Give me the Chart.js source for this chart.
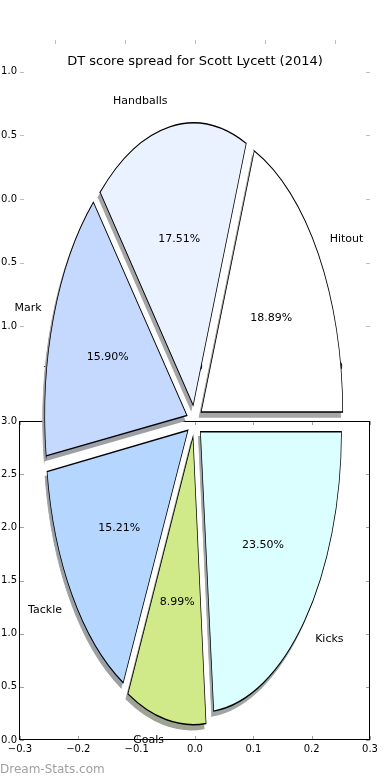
<!DOCTYPE html>
<html>
<head>
<meta charset="utf-8">
<script src="https://cdn.jsdelivr.net/npm/chart.js@4.4.1/dist/chart.umd.min.js"></script>
<style>
  html, body { margin: 0; padding: 0; background: #fff; }
  #page { position: relative; width: 390px; height: 780px; overflow: hidden; font-family: "DejaVu Sans", sans-serif; }
  canvas { position: absolute; top: 0; }
  #ghost { left: -20px; }
  #box, #pie { left: 0; }
  #title { position: absolute; left: 0; width: 390px; top: 52px; text-align: center; font-size: 13px; line-height: 18px; color: #000; }
  #credit { position: absolute; left: 0; top: 761px; font-size: 12px; line-height: 16px; color: #a0a0a0; }
</style>
</head>
<body>
<div id="page">
  <canvas id="ghost" width="430" height="400"></canvas>
  <canvas id="box" width="390" height="780"></canvas>
  <canvas id="pie" width="390" height="780"></canvas>
  <div id="title">DT score spread for Scott Lycett (2014)</div>
  <div id="credit">Dream-Stats.com</div>
</div>
<script>
const categories = ["Hitout", "Handballs", "Mark", "Tackle", "Goals", "Kicks"];
const shares = [18.89, 17.51, 15.90, 15.21, 8.99, 23.50];
const sliceColors = ["#FFFFFF", "#EBF2FF", "#C5D9FF", "#B5D6FF", "#D0EA8A", "#DBFFFF"];

// the empty axes behind the pie, and the framed one under it
const ghostTicks = [-1.0, -0.5, 0.0, 0.5, 1.0];
const boxXTicks = [-0.3, -0.2, -0.1, 0.0, 0.1, 0.2, 0.3];
const boxYTicks = [0.0, 0.5, 1.0, 1.5, 2.0, 2.5, 3.0];

const FONT = "DejaVu Sans";
const STRETCH_Y = 1.99; // pie is squashed into a tall axes, so it comes out as an ellipse
const EXPLODE = 8;      // px, every slice pushed out along its middle angle
const PIE_RADIUS = 141;
const FAR = 3000;       // shadows: shape drawn off canvas, only the shadow lands

Chart.defaults.font.family = FONT;
Chart.defaults.color = "#000";
Chart.defaults.animation = false;

function tickText(v) {
  return Number(v).toFixed(1).replace("-", "\u2212");
}

function shadowOf(hex) {
  //matplotlib shadow: 0.3 * face colour at alpha 0.5 over white
  const n = parseInt(hex.slice(1), 16);
  const rgb = [(n >> 16) & 255, (n >> 8) & 255, n & 255].map((c) => Math.round(c * 0.15 + 127.5));
  return `rgb(${rgb[0]},${rgb[1]},${rgb[2]})`;
}

const innerTicks = {
  id: "innerTicks",
  afterDraw(chart, args, opts) {
    const { ctx, chartArea: a, scales } = chart;
    const len = 4;
    ctx.save();
    ctx.lineWidth = 1;
    ctx.strokeStyle = opts.color;
    ctx.beginPath();
    scales.x.ticks.forEach((t) => {
      const px = Math.round(scales.x.getPixelForValue(t.value)) + 0.5;
      ctx.moveTo(px, a.bottom);
      ctx.lineTo(px, a.bottom - len);
      ctx.moveTo(px, a.top);
      ctx.lineTo(px, a.top + len);
    });
    scales.y.ticks.forEach((t) => {
      const py = Math.round(scales.y.getPixelForValue(t.value)) + 0.5;
      ctx.moveTo(a.left, py);
      ctx.lineTo(a.left + len, py);
      ctx.moveTo(a.right, py);
      ctx.lineTo(a.right - len, py);
    });
    ctx.stroke();
    if (opts.frame) {
      ctx.strokeStyle = "#000";
      ctx.strokeRect(Math.round(a.left) - 0.5, Math.round(a.top) + 0.5, Math.round(a.right - a.left), Math.round(a.bottom - a.top) - 1);
    }
    ctx.restore();
  },
};

function axis(values, min, max, fitSize, isX) {
  return {
    type: "linear",
    min: min,
    max: max,
    grid: { display: false, drawTicks: false },
    border: { display: false },
    ticks: { font: { size: 10 }, color: "#000", padding: 3, callback: (v) => tickText(v) },
    afterBuildTicks: (scale) => {
      scale.ticks = values.map((v) => ({ value: v }));
    },
    afterFit: (scale) => {
      if (isX) scale.height = fitSize;
      else scale.width = fitSize;
    },
  };
}

function drawAxes(canvasId, xValues, yValues, range, padding, fit, tickColor, frame) {
  return new Chart(document.getElementById(canvasId), {
    type: "scatter",
    data: { datasets: [] },
    options: {
      responsive: false,
      events: [],
      layout: { padding: padding },
      scales: {
        x: axis(xValues, range.x[0], range.x[1], fit.x, true),
        y: axis(yValues, range.y[0], range.y[1], fit.y, false),
      },
      plugins: {
        legend: { display: false },
        tooltip: { enabled: false },
        innerTicks: { color: tickColor, frame: frame },
      },
    },
    plugins: [innerTicks],
  });
}

function squash(ctx, cy) {
  ctx.translate(0, cy);
  ctx.scale(1, STRETCH_Y);
  ctx.translate(0, -cy);
}

function drawLabels(chart) {
  const ctx = chart.ctx;
  const arcs = chart.getDatasetMeta(0).data;
  const values = chart.data.datasets[0].data;
  const total = values.reduce((a, b) => a + b, 0);
  ctx.save();
  ctx.fillStyle = "#000";
  ctx.font = `11px "${FONT}"`;
  ctx.textBaseline = "middle";
  arcs.forEach((arc, i) => {
    const mid = (arc.startAngle + arc.endAngle) / 2;
    const cos = Math.cos(mid);
    const sin = Math.sin(mid);
    const at = (k) => {
      const d = EXPLODE + k * arc.outerRadius;
      return [arc.x + cos * d, arc.y + sin * d * STRETCH_Y];
    };
    let [x, y] = at(1.1);
    ctx.textAlign = cos > 0 ? "left" : "right";
    ctx.fillText(chart.data.labels[i], x, y);
    [x, y] = at(0.6);
    ctx.textAlign = "center";
    ctx.fillText(((values[i] / total) * 100).toFixed(2) + "%", x, y);
  });
  ctx.restore();
}

const stretchedPie = {
  id: "stretchedPie",
  beforeDatasetsDraw(chart) {
    const ctx = chart.ctx;
    const arcs = chart.getDatasetMeta(0).data;
    const cy = arcs[0].y;
    // all shadows first, behind every slice
    ctx.save();
    ctx.translate(-FAR, 0);
    ctx.shadowOffsetX = FAR - 2;
    ctx.shadowOffsetY = 5;
    ctx.shadowBlur = 0;
    squash(ctx, cy);
    arcs.forEach((arc) => {
      ctx.shadowColor = shadowOf(arc.options.backgroundColor);
      arc.draw(ctx);
    });
    ctx.restore();
    ctx.save();
    squash(ctx, cy);
  },
  afterDatasetsDraw(chart) {
    chart.ctx.restore();
    drawLabels(chart);
  },
};

drawAxes("ghost", ghostTicks, ghostTicks, { x: [-1.25, 1.25], y: [-1.25, 1.25] },
  { top: 40, right: 40, left: 0, bottom: 0 }, { x: 42, y: 40 }, "#bdbdbd", false);

drawAxes("box", boxXTicks, boxYTicks, { x: [-0.3, 0.3], y: [0, 3] },
  { top: 421, right: 20, left: 0, bottom: 0 }, { x: 40, y: 20 }, "#a0a0a0", true);

// matplotlib goes counter-clockwise from 3 o'clock, Chart.js clockwise: reverse the order
new Chart(document.getElementById("pie"), {
  type: "pie",
  data: {
    labels: categories.slice().reverse(),
    datasets: [
      {
        data: shares.slice().reverse(),
        backgroundColor: sliceColors.slice().reverse(),
        borderColor: "#000",
        borderWidth: 0.75,
        borderJoinStyle: "miter",
        offset: EXPLODE * 4,
        clip: false,
      },
    ],
  },
  options: {
    responsive: false,
    events: [],
    rotation: 90,
    radius: PIE_RADIUS,
    layout: { padding: { top: 62, right: 1, left: 0, bottom: 0 } },
    plugins: { legend: { display: false }, tooltip: { enabled: false } },
  },
  plugins: [stretchedPie],
});
</script>
</body>
</html>
